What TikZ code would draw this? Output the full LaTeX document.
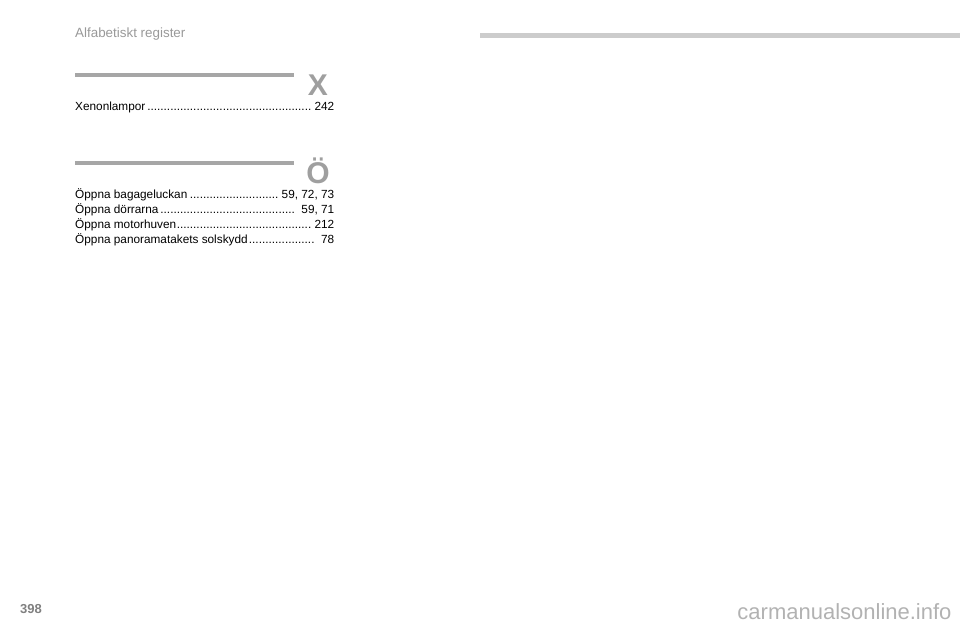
\documentclass[tikz,border=0pt]{standalone}
\usepackage{fontspec}
\setmainfont{Liberation Sans}
\newcommand{\dotlead}{\leaders\hbox{.}\hfill}
\begin{document}
\begin{tikzpicture}[x=1pt,y=-1pt,
  entry/.style={anchor=west,inner sep=0pt,font=\fontsize{11.8}{12}\selectfont},
  letter/.style={text=gray!75,font=\bfseries\fontsize{30}{30}\selectfont,inner sep=0pt},
  bar/.style={line width=4pt,gray!70}]
\useasboundingbox (0,0) rectangle (960,640);
\node[anchor=west,inner sep=0pt,text=gray!80,font=\fontsize{13.4}{14}\selectfont] (hdr) at (75,34) {Alfabetiskt register};
\coordinate (t1) at (480,35); \coordinate (t2) at (960,35);
\draw[line width=5pt,gray!40] (t1) -- (t2);
\coordinate (b1) at (75,75); \coordinate (b2) at (294,75);
\draw[bar] (b1) -- (b2);
\node[letter] (x) at (318,85) {X};
\node[entry] (e0) at (75,107) {\parbox{259pt}{Xenonlampor\dotlead 242}};
\coordinate (c1) at (75,163); \coordinate (c2) at (294,163);
\draw[bar] (c1) -- (c2);
\node[letter] (oe) at (318,171) {Ö};
\node[entry] (e1) at (75,195) {\parbox{259pt}{Öppna bagageluckan\dotlead 59, 72, 73}};
\node[entry] (e2) at (75,210) {\parbox{259pt}{Öppna dörrarna\dotlead\ 59, 71}};
\node[entry] (e3) at (75,225) {\parbox{259pt}{Öppna motorhuven\dotlead 212}};
\node[entry] (e4) at (75,240) {\parbox{259pt}{Öppna panoramatakets solskydd\dotlead\ 78}};
\node[anchor=west,inner sep=0pt,font=\bfseries\fontsize{13}{14}\selectfont,text=gray] (pg) at (20,609) {398};
\node[anchor=east,text=gray!60,font=\fontsize{22}{24}\selectfont] (wm) at (955,612) {carmanualsonline.info};
\end{tikzpicture}
\end{document}
